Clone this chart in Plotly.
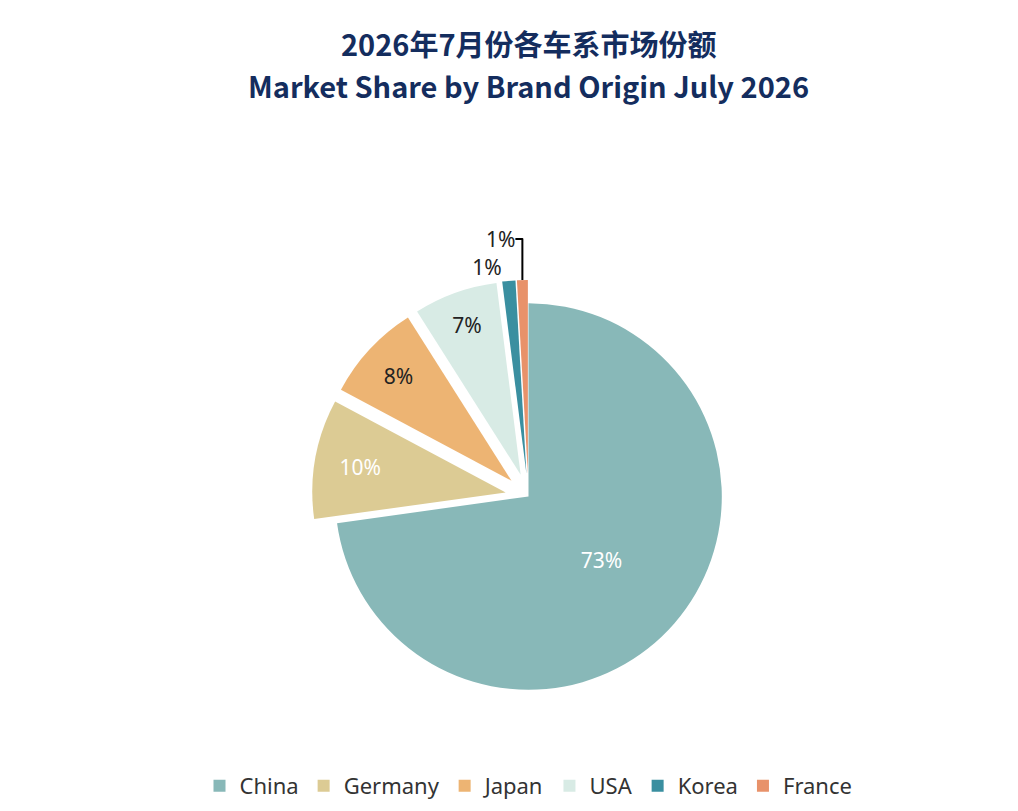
import plotly.graph_objects as go

labels = ['China', 'Germany', 'Japan', 'USA', 'Korea', 'France']
shares = [72.8, 10.0, 8.2, 7.0, 1.1, 0.9]
colors = ['#88b8b8', '#dccb94', '#edb473', '#d8ebe5', '#3a8fa0', '#e8926a']
text_colors = ['white', 'white', '#222222', '#222222', '#222222', '#222222']
pulls = [0, 0.12, 0.12, 0.12, 0.12, 0.12]
title_cn = '2026年7月份各车系市场份额'
title_en = 'Market Share by Brand Origin July 2026'

fig = go.Figure(go.Pie(
    labels=labels, values=shares,
    marker=dict(colors=colors, line=dict(color='white', width=0)),
    sort=False, direction='clockwise', rotation=0,
    pull=pulls,
    texttemplate='%{percent:.0%}',
    textposition=['inside', 'inside', 'inside', 'inside', 'outside', 'outside'],
    textfont=dict(size=21, color=text_colors, family='Noto Sans'),
    insidetextorientation='horizontal',
))

title_font = dict(size=29, color='#142d5e', family='Noto Sans CJK SC')
fig.add_annotation(text='<b>%s</b>' % title_cn, x=0.5, y=30, xref='paper', yref='paper',
                   showarrow=False, font=title_font)
fig.add_annotation(text='<b>%s</b>' % title_en, x=0.5, y=72, xref='paper', yref='paper',
                   showarrow=False, font=title_font)
# convert pixel rows to paper coordinates
plot_top, plot_bot = 272, 811 - 96
for a in fig.layout.annotations:
    a.y = (811 - 96 - a.y) / (plot_bot - plot_top)
    a.yanchor = 'middle'

fig.update_layout(
    width=1018, height=811,
    paper_bgcolor='white',
    margin=dict(t=272, b=96, l=150, r=150),
    legend=dict(orientation='h', x=0.5, xanchor='center', y=-0.12, yanchor='top',
                font=dict(size=22, color='#333333', family='Noto Sans')),
)

fig.write_html('out.html')
